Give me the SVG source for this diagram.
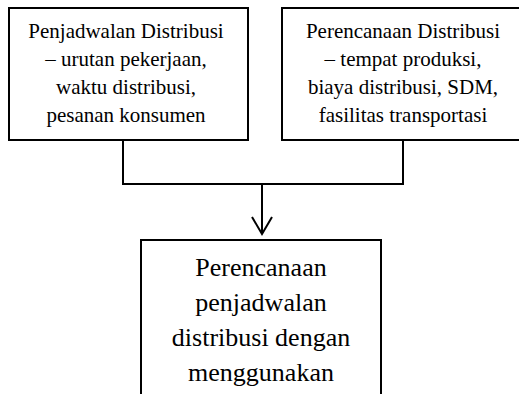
<svg xmlns="http://www.w3.org/2000/svg" width="519" height="394" viewBox="0 0 519 394">
<style>
.box{fill:#fff;stroke:#000;stroke-width:2}
.t{font-family:"Liberation Serif","Times New Roman",serif;font-size:21px;fill:#000;text-anchor:middle}
.tb{font-family:"Liberation Serif","Times New Roman",serif;font-size:26px;fill:#000;text-anchor:middle}
.c{fill:none;stroke:#000;stroke-width:2}
</style>
<rect width="519" height="394" fill="#fff"/>
<g id="connectors">
<polyline class="c" points="123,140 123,184 403,184 403,140"/>
<line class="c" x1="262" y1="184" x2="262" y2="233"/>
<polyline class="c" points="252,217 262,234 272,217"/>
</g>
<g id="node-penjadwalan">
<rect class="box" x="9" y="8" width="239" height="132"/>
<text class="t" x="126" y="38">Penjadwalan Distribusi</text>
<text class="t" x="126" y="66">– urutan pekerjaan,</text>
<text class="t" x="126" y="94">waktu distribusi,</text>
<text class="t" x="126" y="122">pesanan konsumen</text>
</g>
<g id="node-perencanaan">
<rect class="box" x="282" y="8" width="240" height="132"/>
<text class="t" x="403" y="38">Perencanaan Distribusi</text>
<text class="t" x="403" y="66">– tempat produksi,</text>
<text class="t" x="403" y="94">biaya distribusi, SDM,</text>
<text class="t" x="403" y="122">fasilitas transportasi</text>
</g>
<g id="node-hasil">
<rect class="box" x="141" y="240" width="240" height="170"/>
<text class="tb" x="261" y="276">Perencanaan</text>
<text class="tb" x="261" y="311">penjadwalan</text>
<text class="tb" x="261" y="346">distribusi dengan</text>
<text class="tb" x="261" y="381">menggunakan</text>
</g>
</svg>
